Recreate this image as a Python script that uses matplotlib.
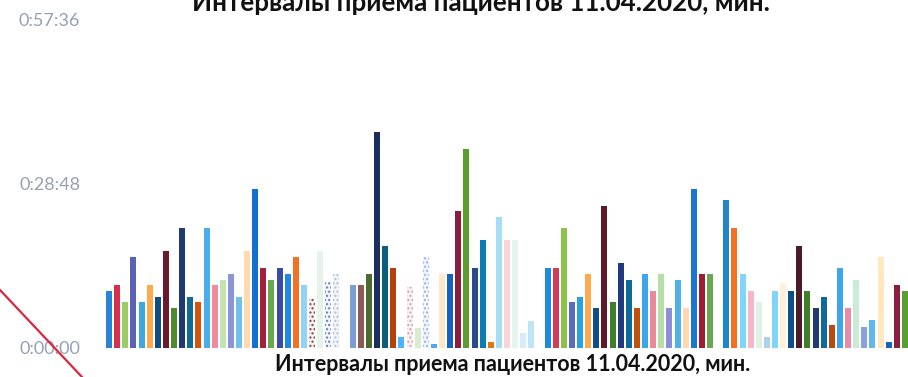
import matplotlib
matplotlib.use("Agg")
import matplotlib.pyplot as plt
from matplotlib.lines import Line2D
from matplotlib.ticker import FuncFormatter

# interval length for each patient, minutes
patients = list(range(1, 100))
minutes = [
    10, 11, 8, 16, 8, 11, 9, 17, 7, 21,
    9, 8, 21, 11, 12, 13, 9, 17, 28, 14,
    12, 14, 13, 16, 11, 8.8, 17, 11.6, 13, 0,
    11, 11, 13, 38, 18, 14, 2, 10.7, 3.5, 16,
    0.7, 13, 13, 24, 35, 14, 19, 1, 23, 19,
    19, 2.6, 4.7, 0, 14, 14, 21, 8, 9, 13,
    7, 25, 8, 15, 12, 7, 13, 10, 13, 7,
    12, 7, 28, 13, 13, 0, 26, 21, 13, 10,
    8, 2, 10, 11.4, 10, 18, 10, 7, 9, 4,
    14, 7, 12, 3.7, 5, 16, 1, 11, 10,
]
y_ticks = [0, 28.8, 57.6]
title = "Интервалы приема пациентов 11.04.2020, мин."

colors = [
    "#2a82d4", "#d6304f", "#9ccc65", "#5a62b8", "#3ea8e0", "#ffa94d", "#0f4e85", "#6b1a2c", "#4d8a2c", "#1e3a70",
    "#0f6a96", "#d4560e", "#48aef0", "#f08aa0", "#c5e3b0", "#8a94d8", "#6ec0ee", "#ffd9b0", "#1270d0", "#a31f3f",
    "#6aa84f", "#3a4aa8", "#1e88e5", "#f4711f", "#8fd3f7", "#8b3a3a", "#e6f3ea", "#4f7fd0", "#a8c0e0", "#ffffff",
    "#7b9fd4", "#8d5a5a", "#4b6b2f", "#1a2f5f", "#0b5e7c", "#b5400c", "#4fb3ff", "#e79aa0", "#d8ecd0", "#8ab4f8",
    "#4fa8f0", "#ffe8c8", "#1565c0", "#8b1e3f", "#5a9e2f", "#2b4a8b", "#0b7db5", "#e07a10", "#a5ddf5", "#fad4da",
    "#e6f4f1", "#d6ecf8", "#bfe4f5", "#ffffff", "#1e88e5", "#d63a5a", "#8bc34a", "#5c6bc0", "#29a3e0", "#ffa94d",
    "#0d4f8b", "#5e1a2a", "#3f7f2a", "#1f3b80", "#0e6a9a", "#c0500a", "#3da5ea", "#e88a9a", "#b4e0a8", "#8c8fd8",
    "#4fb3e8", "#ffd8b0", "#1976d2", "#a01c35", "#6aa84f", "#ffffff", "#1f86c9", "#f4711f", "#81d4fa", "#f4b6c8",
    "#dff0e4", "#b0d0f0", "#81d4fa", "#fff0dc", "#0d4f8b", "#4a1a2a", "#3f7f2a", "#1f3b73", "#0e6a9a", "#b84a10",
    "#3da5ea", "#e88aa8", "#c8ecd8", "#8ca0e0", "#5fb8ec", "#ffe8c0", "#1565c0", "#8b1e3f", "#5a9e2f",
]
# bars filled with a dotted pattern instead of a solid colour
dotted = {26, 28, 29, 38, 40}

plt.rcParams["font.family"] = ["Lato", "DejaVu Sans"]

fig = plt.figure(figsize=(9.08, 3.77), dpi=100)
ax = fig.add_axes([105 / 908, 29 / 377, 804 / 908, 328 / 377])

for i, (p, v) in enumerate(zip(patients, minutes)):
    if p in dotted:
        ax.bar(i, v, width=0.74, facecolor="#f4f4f8", edgecolor=colors[i],
               hatch="....", linewidth=0)
    else:
        ax.bar(i, v, width=0.74, color=colors[i], linewidth=0)

ax.set_xlim(-0.5, len(patients) - 0.5)
ax.set_ylim(y_ticks[0], y_ticks[-1])
ax.set_yticks(y_ticks)


def hms(v, pos):
    sec = int(round(v * 60))
    return "%d:%02d:%02d" % (sec // 3600, sec // 60 % 60, sec % 60)


ax.yaxis.set_major_formatter(FuncFormatter(hms))
ax.tick_params(axis="y", length=0, pad=18, labelsize=13, labelcolor="#95a1b2")
ax.set_xticks([])
for s in ax.spines.values():
    s.set_visible(False)

fig.text(0.53, 1.0 - 11 / 377, title, ha="center", va="baseline",
         fontsize=18.7, fontweight="bold", color="#111111")
fig.text(513 / 908, 6 / 377, title, ha="center", va="baseline",
         fontsize=15.5, fontweight="bold", color="#111111")

# red stroke across the lower left corner
fig.add_artist(Line2D([0, 82 / 908], [87 / 377, 0], transform=fig.transFigure,
                      color="#d8283c", linewidth=1.6))

fig.savefig("out.png", dpi=100)
